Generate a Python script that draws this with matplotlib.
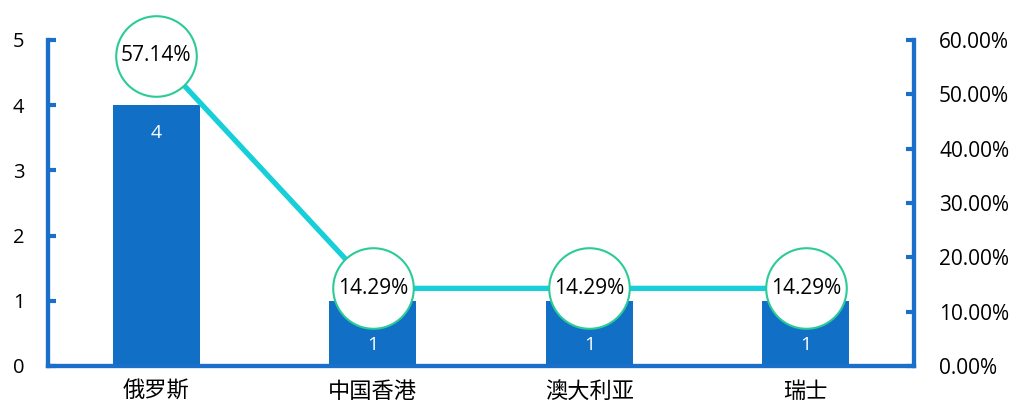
import matplotlib.pyplot as plt
import numpy as np
from matplotlib.ticker import PercentFormatter

plt.rcParams['font.family'] = ['Open Sans', 'Noto Sans CJK SC', 'DejaVu Sans']

# 数据
regions = ['俄罗斯', '中国香港', '澳大利亚', '瑞士']
counts = [4, 1, 1, 1]
shares = [0.5714, 0.1429, 0.1429, 0.1429]

blue = '#1170C6'
axis_blue = '#1A6FCB'
cyan = '#17CFD8'
ring = '#2BCB98'

fig = plt.figure(figsize=(10.15, 4.11), dpi=100)
ax = fig.add_axes([0.0473, 0.1095, 0.8532, 0.7932])
ax2 = ax.twinx()

x = np.arange(len(regions))
ax.bar(x, counts, width=0.4, color=blue, zorder=2)
ax.set_xlim(-0.5, len(regions) - 0.5)
ax.set_ylim(0, 5)
ax.set_yticks(range(0, 6))
ax.set_xticks(x)
ax.set_xticklabels(regions, fontsize=16, family=['Noto Sans CJK SC'])
ax.tick_params(axis='x', length=0, pad=10)
ax.tick_params(axis='y', direction='in', length=6, width=3, color=axis_blue,
               labelsize=14.5, pad=17)

# 柱内数值
for xi, v in zip(x, counts):
    y = v - 0.43 if v > 2 else v * 0.32
    ax.text(xi, y, str(v), ha='center', va='center', color='white', fontsize=14, zorder=3)

ax2.plot(x, shares, color=cyan, linewidth=3.8, zorder=3)
ax2.plot(x, shares, linestyle='none', marker='o', markersize=58, clip_on=False,
         markerfacecolor='white', markeredgecolor=ring, markeredgewidth=1.5, zorder=4)
for xi, s in zip(x, shares):
    ax2.text(xi, s, f'{s * 100:.2f}%', ha='center', va='center', fontsize=15,
             color='black', zorder=5)
ax2.set_ylim(0, 0.6)
ax2.set_yticks(np.arange(0, 0.61, 0.1))
ax2.yaxis.set_major_formatter(PercentFormatter(1.0, decimals=2))
ax2.tick_params(axis='y', direction='in', length=6, width=3, color=axis_blue,
                labelsize=15, pad=18)

for a in (ax, ax2):
    a.spines['top'].set_visible(False)
    for side in ('left', 'right', 'bottom'):
        a.spines[side].set_color(axis_blue)
        a.spines[side].set_linewidth(3)

fig.savefig('out.png', dpi=100)
